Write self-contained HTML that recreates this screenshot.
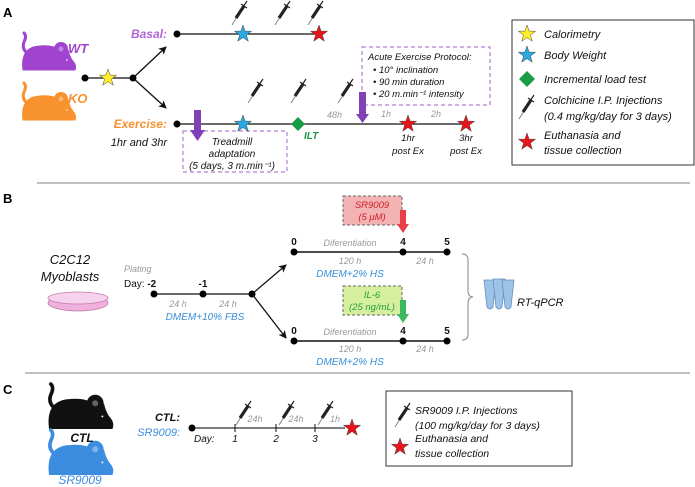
<!DOCTYPE html>
<html><head><meta charset="utf-8"><style>
html,body{margin:0;padding:0;background:#fff;}
svg{display:block;font-family:"Liberation Sans",sans-serif;}
.i{font-style:italic;}
</style></head><body>
<svg width="695" height="487" viewBox="0 0 695 487" xmlns="http://www.w3.org/2000/svg">
<defs>
<path id="star" d="M0,-9 L2.1,-2.9 8.6,-2.8 3.4,1.1 5.3,7.3 0,3.6 -5.3,7.3 -3.4,1.1 -8.6,-2.8 -2.1,-2.9Z" stroke="#444" stroke-width="0.5"/>
<g id="syr">
<line x1="0" y1="24" x2="5" y2="16" stroke="#888" stroke-width="1"/>
<line x1="4" y1="17" x2="12" y2="5" stroke="#222" stroke-width="3.2"/>
<line x1="11" y1="6" x2="15" y2="0" stroke="#222" stroke-width="1.2"/>
<line x1="9" y1="3" x2="15" y2="7" stroke="#222" stroke-width="1.2"/>
</g>
<g id="mouse">
<path d="M10,22 Q1,17 4,9 Q7,3 4,0" fill="none" stroke-width="3" stroke-linecap="round"/>
<path d="M3,37 Q0,14 20,13 Q32,12 38,16 Q44,12 48,17 Q49,22 52,27 Q57,32 55,37 Z"/>
<circle cx="41" cy="16" r="6.5"/>
<circle cx="41" cy="16" r="3" fill="#fff" opacity="0.35"/>
<circle cx="47" cy="27" r="1.3" fill="#fff"/>
</g>
<marker id="ah" markerWidth="8" markerHeight="8" refX="7" refY="4" orient="auto" markerUnits="userSpaceOnUse"><path d="M0,0 L8,4 0,8 2,4Z" fill="#111"/></marker>
</defs>

<!-- Panel A -->
<text x="3" y="17" font-size="13" font-weight="bold">A</text>
<use href="#mouse" x="20" y="33" fill="#a044d0" stroke="#a044d0"/>
<use href="#mouse" x="20" y="83" fill="#f7922f" stroke="#f7922f"/>
<text x="68" y="53" font-size="13" font-weight="bold" class="i" fill="#a044d0">WT</text>
<text x="68" y="103" font-size="13" font-weight="bold" class="i" fill="#f7922f">KO</text>
<line x1="85" y1="78" x2="133" y2="78" stroke="#111" stroke-width="1.3"/>
<circle cx="85" cy="78" r="3.5"/><circle cx="133" cy="78" r="3.5"/>
<use href="#star" x="108" y="78" fill="#ffef2a"/>
<line x1="133" y1="78" x2="166" y2="47" stroke="#111" stroke-width="1.3" marker-end="url(#ah)"/>
<line x1="133" y1="78" x2="166" y2="108" stroke="#111" stroke-width="1.3" marker-end="url(#ah)"/>

<text x="167" y="38" font-size="12" font-weight="bold" class="i" fill="#b065d8" text-anchor="end">Basal:</text>
<line x1="177" y1="34" x2="322" y2="34" stroke="#111" stroke-width="1.3"/>
<circle cx="177" cy="34" r="3.5"/>
<use href="#star" x="243" y="34" fill="#2aa8e0"/>
<use href="#star" x="319" y="34" fill="#e8141b"/>
<use href="#syr" x="232" y="1"/><use href="#syr" x="275" y="1"/><use href="#syr" x="308" y="1"/>

<text x="167" y="128" font-size="12" font-weight="bold" class="i" fill="#f7922f" text-anchor="end">Exercise:</text>
<text x="167" y="146" font-size="11" class="i" fill="#111" text-anchor="end">1hr and 3hr</text>
<line x1="177" y1="124" x2="466" y2="124" stroke="#111" stroke-width="1.3"/>
<circle cx="177" cy="124" r="3.5"/>
<rect x="183" y="131" width="104" height="41" fill="none" stroke="#b57fd6" stroke-width="1.2" stroke-dasharray="4,3"/>
<text x="232" y="145" font-size="10" class="i" fill="#111" text-anchor="middle">Treadmill</text>
<text x="232" y="157" font-size="10" class="i" fill="#111" text-anchor="middle">adaptation</text>
<text x="232" y="169" font-size="10" class="i" fill="#111" text-anchor="middle">(5 days, 3 m.min⁻¹)</text>
<path d="M194,110 h7 v20 h4 l-7.5,11 -7.5,-11 h4Z" fill="#8040b8"/>
<use href="#star" x="243" y="124" fill="#2aa8e0"/>
<path d="M298,117 l7,7 -7,7 -7,-7Z" fill="#1a9c47"/>
<text x="304" y="139" font-size="10" font-weight="bold" class="i" fill="#1a9c47">ILT</text>
<text x="327" y="118" font-size="9" class="i" fill="#999">48h</text>
<use href="#syr" x="248" y="79"/><use href="#syr" x="291" y="79"/><use href="#syr" x="338" y="79"/>
<rect x="362" y="47" width="128" height="58" fill="none" stroke="#b57fd6" stroke-width="1.2" stroke-dasharray="4,3"/>
<text x="368" y="60" font-size="9.5" class="i" fill="#111">Acute Exercise Protocol:</text>
<text x="373" y="73" font-size="9.5" class="i" fill="#111">• 10° inclination</text>
<text x="373" y="85" font-size="9.5" class="i" fill="#111">• 90 min duration</text>
<text x="373" y="97" font-size="9.5" class="i" fill="#111">• 20 m.min⁻¹ intensity</text>
<path d="M359,92 h7 v22 h3 l-6.5,9 -6.5,-9 h3Z" fill="#8040b8"/>
<text x="381" y="117" font-size="9" class="i" fill="#999">1h</text>
<text x="431" y="117" font-size="9" class="i" fill="#999">2h</text>
<use href="#star" x="408" y="124" fill="#e8141b"/>
<use href="#star" x="466" y="124" fill="#e8141b"/>
<text x="408" y="141" font-size="9.5" class="i" fill="#111" text-anchor="middle">1hr</text>
<text x="408" y="154" font-size="9.5" class="i" fill="#111" text-anchor="middle">post Ex</text>
<text x="466" y="141" font-size="9.5" class="i" fill="#111" text-anchor="middle">3hr</text>
<text x="466" y="154" font-size="9.5" class="i" fill="#111" text-anchor="middle">post Ex</text>

<rect x="512" y="20" width="182" height="145" fill="#fff" stroke="#333" stroke-width="1"/>
<use href="#star" x="527" y="34" fill="#ffef2a"/>
<text x="544" y="38" font-size="11" class="i" fill="#111">Calorimetry</text>
<use href="#star" x="527" y="55" fill="#2aa8e0"/>
<text x="544" y="59" font-size="11" class="i" fill="#111">Body Weight</text>
<path d="M527,71 l8,8 -8,8 -8,-8Z" fill="#1a9c47"/>
<text x="544" y="83" font-size="11" class="i" fill="#111">Incremental load test</text>
<use href="#syr" x="519" y="95"/>
<text x="544" y="104" font-size="11" class="i" fill="#111">Colchicine I.P. Injections</text>
<text x="544" y="120" font-size="11" class="i" fill="#111">(0.4 mg/kg/day for 3 days)</text>
<use href="#star" x="527" y="142" fill="#e8141b"/>
<text x="544" y="139" font-size="11" class="i" fill="#111">Euthanasia and</text>
<text x="544" y="154" font-size="11" class="i" fill="#111">tissue collection</text>

<line x1="37" y1="183" x2="690" y2="183" stroke="#aaa" stroke-width="1.5"/>

<!-- Panel B -->
<text x="3" y="203" font-size="13" font-weight="bold">B</text>
<text x="70" y="264" font-size="13" class="i" fill="#111" text-anchor="middle">C2C12</text>
<text x="70" y="281" font-size="13" class="i" fill="#111" text-anchor="middle">Myoblasts</text>
<ellipse cx="78" cy="303" rx="30" ry="8" fill="#f0b0dc" stroke="#c07ab0" stroke-width="0.8"/>
<ellipse cx="78" cy="298" rx="30" ry="6" fill="#f7d2ec" stroke="#c07ab0" stroke-width="0.8"/>
<text x="124" y="272" font-size="9" class="i" fill="#999">Plating</text>
<text x="124" y="287" font-size="10" fill="#111">Day: <tspan font-weight="bold">-2</tspan></text>
<text x="203" y="287" font-size="10" font-weight="bold" fill="#111" text-anchor="middle">-1</text>
<line x1="154" y1="294" x2="252" y2="294" stroke="#111" stroke-width="1.3"/>
<circle cx="154" cy="294" r="3.5"/><circle cx="203" cy="294" r="3.5"/><circle cx="252" cy="294" r="3.5"/>
<text x="178" y="307" font-size="9" class="i" fill="#999" text-anchor="middle">24 h</text>
<text x="228" y="307" font-size="9" class="i" fill="#999" text-anchor="middle">24 h</text>
<text x="205" y="320" font-size="10" class="i" fill="#3a8fd8" text-anchor="middle">DMEM+10% FBS</text>
<line x1="252" y1="294" x2="286" y2="265" stroke="#111" stroke-width="1.3" marker-end="url(#ah)"/>
<line x1="252" y1="294" x2="286" y2="338" stroke="#111" stroke-width="1.3" marker-end="url(#ah)"/>

<rect x="343" y="196" width="59" height="29" fill="#f3b3b3" stroke="#666" stroke-width="1" stroke-dasharray="3,2"/>
<text x="372" y="208" font-size="9.5" class="i" fill="#d0202a" text-anchor="middle">SR9009</text>
<text x="372" y="220" font-size="9.5" class="i" fill="#d0202a" text-anchor="middle">(5 μM)</text>
<path d="M400,210 h6 v14 h3 l-6,9 -6,-9 h3Z" fill="#e8404a"/>
<g font-size="10" font-weight="bold" fill="#111" text-anchor="middle">
<text x="294" y="245">0</text><text x="403" y="245">4</text><text x="447" y="245">5</text>
<text x="294" y="334">0</text><text x="403" y="334">4</text><text x="447" y="334">5</text>
</g>
<line x1="294" y1="252" x2="447" y2="252" stroke="#111" stroke-width="1.5"/>
<circle cx="294" cy="252" r="3.5"/><circle cx="403" cy="252" r="3.5"/><circle cx="447" cy="252" r="3.5"/>
<text x="350" y="246" font-size="9" class="i" fill="#999" text-anchor="middle">Diferentiation</text>
<text x="350" y="264" font-size="9" class="i" fill="#999" text-anchor="middle">120 h</text>
<text x="425" y="264" font-size="9" class="i" fill="#999" text-anchor="middle">24 h</text>
<text x="350" y="277" font-size="10" class="i" fill="#3a8fd8" text-anchor="middle">DMEM+2% HS</text>

<rect x="343" y="286" width="59" height="29" fill="#d6ef9e" stroke="#666" stroke-width="1" stroke-dasharray="3,2"/>
<text x="372" y="298" font-size="9.5" class="i" fill="#22a040" text-anchor="middle">IL-6</text>
<text x="372" y="310" font-size="9.5" class="i" fill="#22a040" text-anchor="middle">(25 ng/mL)</text>
<path d="M400,300 h6 v14 h3 l-6,9 -6,-9 h3Z" fill="#3cb860"/>
<line x1="294" y1="341" x2="447" y2="341" stroke="#111" stroke-width="1.5"/>
<circle cx="294" cy="341" r="3.5"/><circle cx="403" cy="341" r="3.5"/><circle cx="447" cy="341" r="3.5"/>
<text x="350" y="335" font-size="9" class="i" fill="#999" text-anchor="middle">Diferentiation</text>
<text x="350" y="352" font-size="9" class="i" fill="#999" text-anchor="middle">120 h</text>
<text x="425" y="352" font-size="9" class="i" fill="#999" text-anchor="middle">24 h</text>
<text x="350" y="365" font-size="10" class="i" fill="#3a8fd8" text-anchor="middle">DMEM+2% HS</text>

<path d="M462,254 q6,0 6,6 v30 q0,7 5,7 q-5,0 -5,7 v30 q0,6 -6,6" fill="none" stroke="#999" stroke-width="1.2"/>
<g fill="#9cc3e8" stroke="#6a8fb8" stroke-width="0.8">
<path d="M484,280 h12 l-3,27 q-3,4 -6,0Z"/>
<path d="M493,279 h12 l-3,28 q-3,4 -6,0Z"/>
<path d="M502,280 h12 l-3,27 q-3,4 -6,0Z"/>
</g>
<text x="517" y="306" font-size="11" class="i" fill="#111">RT-qPCR</text>

<line x1="25" y1="373" x2="690" y2="373" stroke="#aaa" stroke-width="1.5"/>

<!-- Panel C -->
<text x="3" y="394" font-size="13" font-weight="bold">C</text>
<use href="#mouse" transform="translate(46,384) scale(1.2)" fill="#111" stroke="#111"/>
<use href="#mouse" transform="translate(46,430) scale(1.2)" fill="#3c8de0" stroke="#3c8de0"/>
<text x="82" y="442" font-size="12" font-weight="bold" class="i" fill="#111" text-anchor="middle">CTL</text>
<text x="80" y="484" font-size="12" class="i" fill="#3c8de0" text-anchor="middle">SR9009</text>
<text x="180" y="421" font-size="11" font-weight="bold" class="i" fill="#111" text-anchor="end">CTL:</text>
<text x="180" y="436" font-size="11" class="i" fill="#3c8de0" text-anchor="end">SR9009:</text>
<line x1="192" y1="428" x2="345" y2="428" stroke="#333" stroke-width="1.3"/>
<circle cx="192" cy="428" r="3.5"/>
<g stroke="#111" stroke-width="1"><line x1="235" y1="424" x2="235" y2="432"/><line x1="276" y1="424" x2="276" y2="432"/><line x1="315" y1="424" x2="315" y2="432"/></g>
<text x="194" y="442" font-size="10" class="i" fill="#111">Day:</text>
<text x="235" y="442" font-size="10" class="i" fill="#111" text-anchor="middle">1</text>
<text x="276" y="442" font-size="10" class="i" fill="#111" text-anchor="middle">2</text>
<text x="315" y="442" font-size="10" class="i" fill="#111" text-anchor="middle">3</text>
<text x="255" y="422" font-size="9" class="i" fill="#999" text-anchor="middle">24h</text>
<text x="296" y="422" font-size="9" class="i" fill="#999" text-anchor="middle">24h</text>
<text x="335" y="422" font-size="9" class="i" fill="#999" text-anchor="middle">1h</text>
<use href="#syr" x="236" y="401"/><use href="#syr" x="279" y="401"/><use href="#syr" x="318" y="401"/>
<use href="#star" x="352" y="428" fill="#e8141b"/>
<rect x="386" y="391" width="186" height="75" fill="#fff" stroke="#333" stroke-width="1"/>
<use href="#syr" x="395" y="403"/>
<text x="415" y="414" font-size="10.5" class="i" fill="#111">SR9009 I.P. Injections</text>
<text x="415" y="429" font-size="10.5" class="i" fill="#111">(100 mg/kg/day for 3 days)</text>
<use href="#star" x="400" y="447" fill="#e8141b"/>
<text x="415" y="442" font-size="10.5" class="i" fill="#111">Euthanasia and</text>
<text x="415" y="457" font-size="10.5" class="i" fill="#111">tissue collection</text>
</svg>
</body></html>
